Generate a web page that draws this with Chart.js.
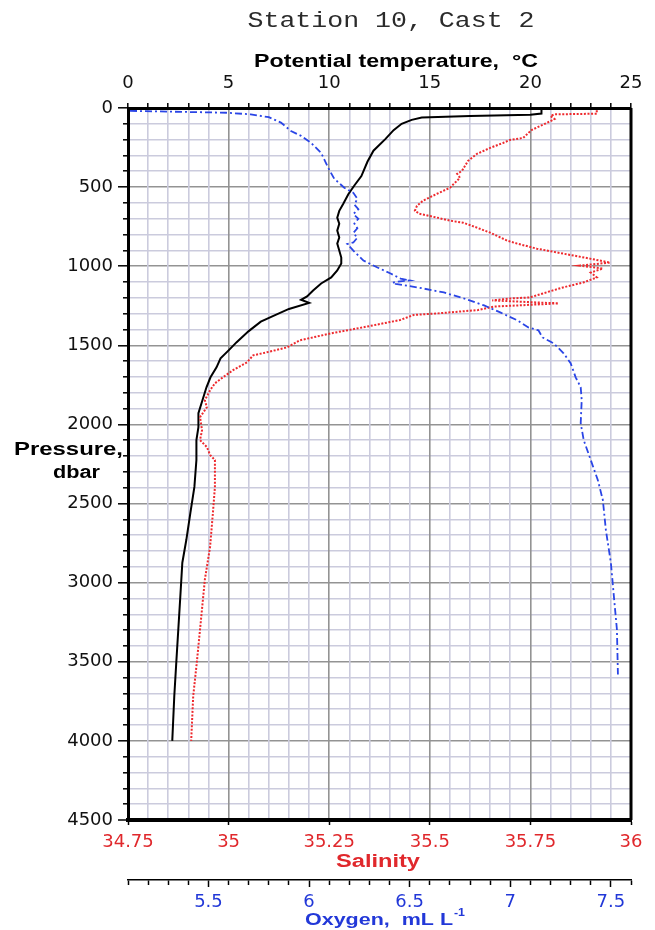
<!DOCTYPE html>
<html>
<head>
<meta charset="utf-8">
<script src="https://cdn.jsdelivr.net/npm/chart.js@4.4.1/dist/chart.umd.min.js"></script>
<style>
  html, body { margin: 0; padding: 0; background: #fff; }
  canvas { display: block; }
</style>
</head>
<body>
<canvas id="profile" width="655" height="930"></canvas>
<script>
// Station 10, Cast 2 - CTD profile (pressure vs potential temperature, salinity, oxygen)

// Potential temperature, degC
const tempPressure = [0, 35, 42, 50, 60, 75, 100, 140, 195, 270, 340, 430, 490, 545, 605, 650, 693, 731, 775, 819,
    857, 901, 945, 983, 1027, 1071, 1109, 1153, 1191, 1212, 1232, 1270, 1315, 1350, 1410, 1480, 1532, 1582, 1639, 1702,
    1765, 1847, 1929, 2017, 2099, 2225, 2395, 2559, 2729, 2874, 3088, 3296, 3504, 3718, 4000];
const tempValues = [20.55, 20.55, 20.0, 17.0, 14.6, 14.1, 13.6, 13.2, 12.8, 12.2, 11.9, 11.6, 11.25, 10.95, 10.7, 10.5, 10.4, 10.5, 10.4, 10.5,
    10.4, 10.5, 10.6, 10.6, 10.4, 10.1, 9.6, 9.2, 8.9, 8.6, 9.0, 8.0, 7.2, 6.6, 6.0, 5.4, 5.0, 4.6, 4.4, 4.1,
    3.9, 3.7, 3.5, 3.5, 3.4, 3.4, 3.3, 3.1, 2.9, 2.7, 2.6, 2.5, 2.4, 2.3, 2.2];

// Salinity
const salPressure = [14, 36, 40, 50, 70, 95, 139, 189, 202, 221, 252, 290, 334, 397, 416, 441, 504, 542, 586, 618,
    649, 668, 693, 712, 725, 756, 788, 838, 857, 889, 920, 952, 977, 996, 1015, 1040, 1071, 1103, 1134, 1172,
    1197, 1204, 1216, 1235, 1255, 1277, 1298, 1308, 1340, 1382, 1422, 1468, 1513, 1544, 1563, 1607, 1657, 1702, 1740, 1784,
    1847, 1891, 1954, 2036, 2099, 2143, 2193, 2225, 2395, 2559, 2773, 2981, 3296, 3504, 3718, 4000];
const salValues = [35.915, 35.915, 35.81, 35.80, 35.81, 35.79, 35.753, 35.732, 35.699, 35.682, 35.650, 35.617, 35.595, 35.580, 35.568, 35.575, 35.550, 35.518, 35.483, 35.468,
    35.463, 35.474, 35.518, 35.550, 35.583, 35.617, 35.650, 35.692, 35.717, 35.766, 35.831, 35.898, 35.948, 35.873, 35.93, 35.90, 35.915, 35.881, 35.831, 35.781,
    35.749, 35.699, 35.655, 35.82, 35.66, 35.62, 35.52, 35.46, 35.426, 35.343, 35.259, 35.177, 35.145, 35.095, 35.061, 35.046, 35.011, 34.986, 34.966, 34.954,
    34.941, 34.946, 34.929, 34.934, 34.929, 34.946, 34.954, 34.966, 34.966, 34.961, 34.954, 34.941, 34.929, 34.921, 34.912, 34.907];

// Oxygen, mL/L
const oxyPressure = [18, 30, 40, 58, 92, 145, 176, 221, 284, 378, 447, 504, 536, 574, 610, 640, 670, 700, 730, 760,
    790, 820, 850, 860, 901, 964, 1008, 1046, 1078, 1090, 1098, 1104, 1112, 1134, 1166, 1204, 1248, 1292, 1342, 1387,
    1405, 1450, 1487, 1550, 1613, 1702, 1765, 1847, 1992, 2099, 2225, 2351, 2477, 2666, 2874, 3088, 3296, 3580];
const oxyValues = [5.11, 5.59, 5.71, 5.80, 5.86, 5.91, 5.96, 6.01, 6.06, 6.095, 6.125, 6.175, 6.22, 6.24, 6.225, 6.245, 6.22, 6.245, 6.225, 6.24,
    6.22, 6.24, 6.22, 6.19, 6.22, 6.27, 6.34, 6.405, 6.455, 6.50, 6.44, 6.415, 6.43, 6.54, 6.67, 6.77, 6.87, 6.95, 7.035, 7.09,
    7.14, 7.16, 7.215, 7.265, 7.30, 7.325, 7.35, 7.355, 7.35, 7.365, 7.40, 7.435, 7.46, 7.475, 7.50, 7.515, 7.53, 7.535];

// Tick labels
const tempLabels = [0, 5, 10, 15, 20, 25];
const pressureLabels = [0, 500, 1000, 1500, 2000, 2500, 3000, 3500, 4000, 4500];
const salinityLabels = [34.75, 35, 35.25, 35.5, 35.75, 36];
const oxygenLabels = [5.5, 6, 6.5, 7, 7.5];

const colors = {
    temp: '#000000',
    sal: '#ee2a2e',
    salText: '#e0282c',
    oxy: '#2a45e6',
    oxyText: '#2238d8',
    gridMinor: '#cbcbdd',
    gridMajor: '#939393'
};

Chart.defaults.font.family = '"DejaVu Sans", sans-serif';

function toPoints(pressure, values) {
    return pressure.map((p, i) => ({ x: values[i], y: p }));
}

// Draw text stretched to the width it has in the figure
function fitText(ctx, text, x, y, font, color, width, align) {
    ctx.save();
    ctx.font = font;
    ctx.fillStyle = color;
    ctx.textBaseline = 'alphabetic';
    ctx.textAlign = 'left';
    const w = ctx.measureText(text).width;
    const sx = width / w;
    const left = align === 'center' ? x - width / 2 : x;
    ctx.translate(left, y);
    ctx.scale(sx, 1);
    ctx.fillText(text, 0, 0);
    ctx.restore();
}

const labelsPlugin = {
    id: 'profileLabels',
    beforeDatasetsDraw(chart) {
        const { ctx, chartArea } = chart;
        ctx.save();
        ctx.strokeStyle = '#000';
        ctx.lineWidth = 3;
        ctx.beginPath();
        ctx.moveTo(chartArea.right, chartArea.top);
        ctx.lineTo(chartArea.right, chartArea.bottom);
        ctx.stroke();
        ctx.restore();
    },
    afterDraw(chart) {
        const ctx = chart.ctx;
        fitText(ctx, 'Station 10, Cast 2', 391, 27, '22px "Liberation Mono"', '#2b2b2b', 287, 'center');
        fitText(ctx, 'Potential temperature,  \u00B0C', 396, 67, 'bold 18px "Liberation Sans"', '#000', 284, 'center');
        fitText(ctx, 'Pressure,', 14, 455, 'bold 17.5px "Liberation Sans"', '#000', 109, 'left');
        fitText(ctx, 'dbar', 53, 478, 'bold 17.5px "Liberation Sans"', '#000', 47, 'left');
        fitText(ctx, 'Salinity', 378, 867, 'bold 17.5px "Liberation Sans"', colors.salText, 84, 'center');
        fitText(ctx, 'Oxygen,  mL L', 305, 925, 'bold 17px "Liberation Sans"', colors.oxyText, 148, 'left');
        fitText(ctx, '-1', 454, 916, 'bold 11px "Liberation Sans"', colors.oxyText, 11, 'left');
    }
};

const isMajor = (v, step) => Math.abs(v / step - Math.round(v / step)) < 1e-6;

const chart = new Chart(document.getElementById('profile'), {
    type: 'line',
    data: {
        datasets: [
            {
                label: 'Oxygen',
                data: toPoints(oxyPressure, oxyValues),
                xAxisID: 'xO',
                yAxisID: 'y',
                borderColor: colors.oxy,
                borderWidth: 1.8,
                borderDash: [7, 3, 2, 3],
                pointRadius: 0,
                fill: false,
                tension: 0
            },
            {
                label: 'Salinity',
                data: toPoints(salPressure, salValues),
                xAxisID: 'xS',
                yAxisID: 'y',
                borderColor: colors.sal,
                borderWidth: 2,
                borderDash: [2, 1.6],
                pointRadius: 0,
                fill: false,
                tension: 0
            },
            {
                label: 'Potential temperature',
                data: toPoints(tempPressure, tempValues),
                xAxisID: 'xT',
                yAxisID: 'y',
                borderColor: colors.temp,
                borderWidth: 2,
                pointRadius: 0,
                fill: false,
                tension: 0
            }
        ]
    },
    options: {
        responsive: false,
        animation: false,
        layout: { padding: { left: 0, right: 24, top: 0, bottom: 0 } },
        plugins: {
            legend: { display: false },
            tooltip: { enabled: false },
            title: { display: false }
        },
        scales: {
            y: {
                type: 'linear',
                position: 'left',
                reverse: true,
                min: 0,
                max: 4500,
                afterFit: s => { s.width = 128; },
                ticks: {
                    stepSize: 100,
                    autoSkip: false,
                    padding: 5,
                    color: '#111',
                    font: { size: 18 },
                    callback: v => pressureLabels.includes(v) ? String(v) : ''
                },
                grid: {
                    color: c => c.tick.value === 4500 ? '#000' : (isMajor(c.tick.value, 500) ? colors.gridMajor : colors.gridMinor),
                    lineWidth: c => c.tick.value === 4500 ? 0 : 1.6,
                    tickLength: 10,
                    tickColor: '#000',
                    tickWidth: 1.5,
                    tickBorderDash: c => isMajor(c.tick.value, 500) ? [] : [5, 100],
                    tickBorderDashOffset: c => isMajor(c.tick.value, 500) ? 0 : 100
                },
                border: { display: true, color: '#000', width: 3 }
            },
            xT: {
                type: 'linear',
                position: 'top',
                min: 0,
                max: 25,
                afterFit: s => { s.height = 108; },
                ticks: {
                    stepSize: 1,
                    autoSkip: false,
                    maxRotation: 0,
                    padding: 9,
                    color: '#111',
                    font: { size: 18 },
                    callback: v => tempLabels.includes(v) ? String(v) : ''
                },
                grid: {
                    color: c => isMajor(c.tick.value, 5) ? colors.gridMajor : colors.gridMinor,
                    lineWidth: 1.6,
                    tickLength: 5,
                    tickColor: '#000',
                    tickWidth: 1.5
                },
                border: { display: true, color: '#000', width: 3 }
            },
            xS: {
                type: 'linear',
                position: 'bottom',
                weight: 1,
                min: 34.75,
                max: 36,
                afterFit: s => { s.height = 60; },
                ticks: {
                    stepSize: 0.25,
                    autoSkip: false,
                    maxRotation: 0,
                    padding: 7,
                    color: colors.salText,
                    font: { size: 18 },
                    callback: v => {
                        const r = parseFloat(v.toFixed(2));
                        return salinityLabels.includes(r) ? String(r) : '';
                    }
                },
                grid: {
                    drawOnChartArea: false,
                    tickLength: 5,
                    tickColor: '#000',
                    tickWidth: 1.5
                },
                border: { display: true, color: '#000', width: 4 }
            },
            xO: {
                type: 'linear',
                position: 'bottom',
                weight: 2,
                min: 5.1,
                max: 7.6,
                afterFit: s => { s.height = 50; },
                ticks: {
                    stepSize: 0.1,
                    autoSkip: false,
                    maxRotation: 0,
                    padding: 5,
                    color: colors.oxyText,
                    font: { size: 18 },
                    callback: v => {
                        const r = Math.round(v * 10) / 10;
                        return oxygenLabels.includes(r) ? String(r) : '';
                    }
                },
                grid: {
                    drawOnChartArea: false,
                    tickLength: 7,
                    tickColor: '#000',
                    tickWidth: 1.5,
                    tickBorderDash: c => isMajor(c.tick.value, 0.5) ? [] : [4.5, 100]
                },
                border: { display: true, color: '#000', width: 1.5 }
            }
        }
    },
    plugins: [labelsPlugin]
});
</script>
</body>
</html>
